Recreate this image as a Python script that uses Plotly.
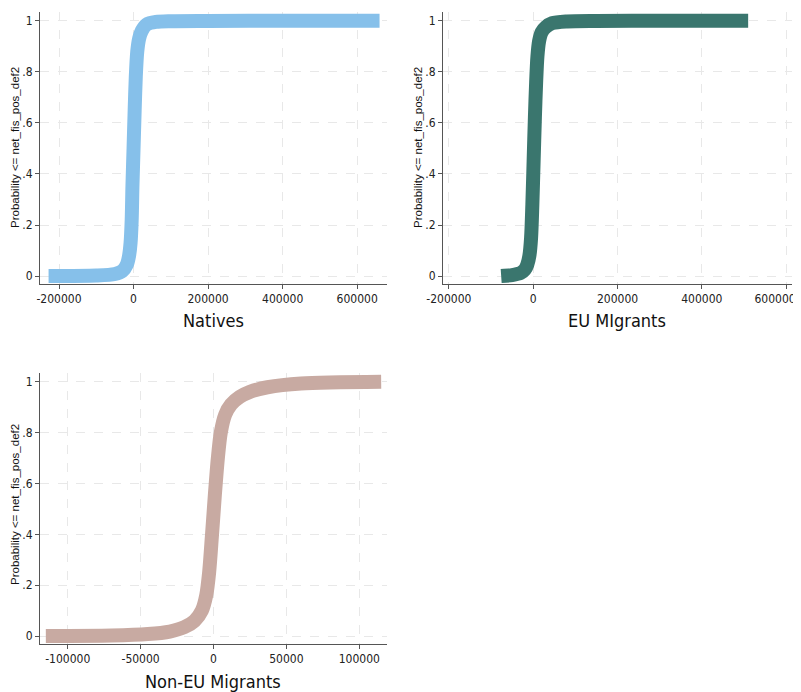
import plotly.graph_objects as go

# ---- data (cumulative distribution, net_fis_pos_def2) ----
natives_x = [-228000, -100000, -50000, -30000, -18000, -12000, -8000, -5000, -3000, 0,
             3000, 6000, 10000, 15000, 22000, 35000, 60000, 100000, 200000, 400000, 660000]
natives_y = [0.0, 0.002, 0.008, 0.02, 0.045, 0.08, 0.13, 0.22, 0.35, 0.5,
             0.65, 0.78, 0.88, 0.93, 0.96, 0.985, 0.995, 0.998, 0.999, 0.9995, 1.0]

eu_x = [-76000, -50000, -30000, -20000, -14000, -9000, -5000, -2000, 1000, 4000,
        7000, 10000, 14000, 20000, 30000, 45000, 80000, 150000, 300000, 510000]
eu_y = [0.0, 0.004, 0.012, 0.025, 0.045, 0.08, 0.15, 0.28, 0.45, 0.62,
        0.76, 0.86, 0.92, 0.955, 0.975, 0.99, 0.997, 0.999, 0.9995, 1.0]

noneu_x = [-115000, -70000, -45000, -30000, -20000, -13000, -8000, -5000, -3000, -1000,
           1000, 3000, 5000, 8000, 12000, 18000, 25000, 37000, 60000, 115000]
noneu_y = [0.0, 0.002, 0.008, 0.018, 0.035, 0.06, 0.1, 0.16, 0.25, 0.4,
           0.56, 0.7, 0.8, 0.87, 0.91, 0.94, 0.96, 0.978, 0.993, 1.0]

y_tickvals = [0, 0.2, 0.4, 0.6, 0.8, 1]
y_ticktext = ["0", ".2", ".4", ".6", ".8", "1"]
x1_ticks = [-200000, 0, 200000, 400000, 600000]
x3_ticks = [-100000, -50000, 0, 50000, 100000]

titles = ["Natives", "EU MIgrants", "Non-EU Migrants"]
ytitle = "Probability <= net_fis_pos_def2"
colors = ["#86c0ea", "#3a766e", "#c8aaa2"]

# page has an 8px body margin; work in page pixels and convert
OFF = 8
W, H = 801 - OFF, 692 - OFF
NARROW = "DejaVu Sans Condensed, Liberation Sans Narrow, Liberation Sans, Arial, sans-serif"
SANS = "Liberation Sans, Arial, sans-serif"


def fx(p):
    return (p - OFF) / W


def fy(p):
    return 1 - (p - OFF) / H


fig = go.Figure()
series = [(natives_x, natives_y), (eu_x, eu_y), (noneu_x, noneu_y)]
for i, (xs, ys) in enumerate(series):
    sfx = "" if i == 0 else str(i + 1)
    fig.add_trace(go.Scatter(
        x=xs, y=ys, mode="lines",
        line=dict(color=colors[i], width=14, shape="spline", smoothing=0.8),
        xaxis="x" + sfx, yaxis="y" + sfx, showlegend=False, hoverinfo="skip"))

axis_common = dict(
    showline=True, linecolor="#555555", linewidth=1, ticks="outside", ticklen=4,
    tickcolor="#555555", showgrid=True, gridcolor="#e8e8e8", griddash="dash",
    gridwidth=1, zeroline=False, tickfont=dict(family=NARROW, size=12, color="#222222"),
    mirror=False, automargin=False, ticklabeloverflow="allow")

doms = [
    ((40, 387), (12, 284), [-251000, 680000], x1_ticks, False),
    ((443, 792), (12, 284), [-214000, 614000], x1_ticks, True),
    ((40, 387), (373, 644), [-119000, 119000], x3_ticks, False),
]
for i, ((xa, xb), (yt, yb), xr, xt, blank_last) in enumerate(doms):
    sfx = "" if i == 0 else str(i + 1)
    labels = [str(v) for v in xt]
    if blank_last:
        labels[-1] = ""
    fig.layout["xaxis" + sfx] = dict(
        axis_common, domain=[fx(xa), fx(xb)], range=xr, tickvals=xt,
        ticktext=labels, anchor="y" + sfx)
    fig.layout["yaxis" + sfx] = dict(
        axis_common, domain=[fy(yb), fy(yt)], range=[-0.031, 1.034], tickvals=y_tickvals,
        ticktext=y_ticktext, anchor="x" + sfx)

# last label of the EU panel, nudged left so it stays inside the page edge
fig.layout["xaxis4"] = dict(
    overlaying="x2", anchor="y2", side="bottom", range=doms[1][2],
    tickvals=[x1_ticks[-1]], ticktext=[str(x1_ticks[-1])],
    ticks="outside", ticklen=4, tickcolor="rgba(0,0,0,0)",
    showline=False, showgrid=False, zeroline=False, automargin=False,
    ticklabeloverflow="allow", ticklabelshift=-11,
    tickfont=dict(family=NARROW, size=12, color="#222222"))
fig.add_trace(go.Scatter(x=[], y=[], xaxis="x4", yaxis="y2", showlegend=False,
                         hoverinfo="skip"))

annotations = []
for (cx, cy, t) in [(213, 320, titles[0]), (617, 320, titles[1]), (213, 681, titles[2])]:
    annotations.append(dict(
        text=t, x=fx(cx), y=fy(cy), xref="paper", yref="paper", showarrow=False,
        xanchor="center", yanchor="middle", font=dict(family=NARROW, size=18, color="#111111")))
for (cx, cy) in [(15, 148), (418, 148), (15, 505)]:
    annotations.append(dict(
        text=ytitle, x=fx(cx), y=fy(cy), xref="paper", yref="paper", showarrow=False,
        textangle=-90, xanchor="center", yanchor="middle",
        font=dict(family=SANS, size=11.5, color="#111111")))

fig.update_layout(
    width=W, height=H, autosize=False,
    margin=dict(l=0, r=0, t=0, b=0, pad=0, autoexpand=False),
    paper_bgcolor="white", plot_bgcolor="white", annotations=annotations)

fig.write_html("out.html")
